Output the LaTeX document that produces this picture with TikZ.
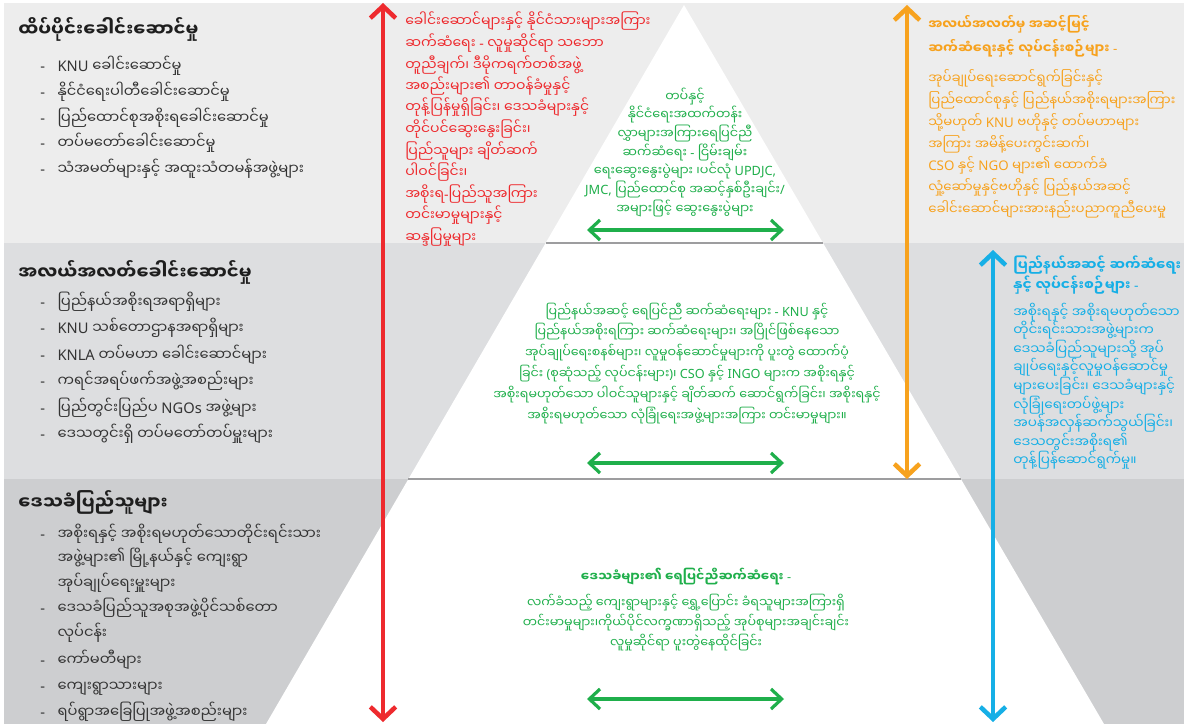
\documentclass[tikz,border=0pt]{standalone}
\usepackage{fontspec}
\setmainfont[Script=Myanmar]{Noto Sans Myanmar UI}
\newfontfamily\latf{Noto Sans}
\newcommand\LT[1]{{\latf #1}}
\newcommand\dsh{\makebox[13pt][l]{\LT{-}}}
\newcommand\ind{\hspace*{13pt}}
\usetikzlibrary{arrows.meta}
\definecolor{bandA}{HTML}{EDEDED}
\definecolor{bandB}{HTML}{DDDEE0}
\definecolor{bandC}{HTML}{CDCED0}
\definecolor{sepgray}{HTML}{9D9D9F}
\definecolor{txtdark}{HTML}{1E1E1E}
\definecolor{txtgray}{HTML}{333333}
\definecolor{cred}{HTML}{EE2A2E}
\definecolor{corange}{HTML}{F7A21E}
\definecolor{cblue}{HTML}{16AFE6}
\definecolor{cgreen}{HTML}{1FAF4B}
\tikzset{
  hdr/.style={anchor=base west, inner sep=0pt, text=txtdark, font=\fontsize{13.5}{16}\selectfont\bfseries},
  itm/.style={anchor=base west, inner sep=0pt, text=txtgray, font=\fontsize{11}{13}\selectfont},
  redt/.style={anchor=base west, inner sep=0pt, text=cred, font=\fontsize{10.5}{12}\selectfont},
  grt/.style={anchor=base, inner sep=0pt, text=cgreen, font=\fontsize{9.6}{11}\selectfont},
  grm/.style={anchor=base, inner sep=0pt, text=cgreen, font=\fontsize{9.5}{11}\selectfont},
  ort/.style={anchor=base west, inner sep=0pt, text=corange, font=\fontsize{10}{12}\selectfont},
  blt/.style={anchor=base west, inner sep=0pt, text=cblue, font=\fontsize{10.2}{12}\selectfont},
  sepline/.style={draw=sepgray, line width=1.6pt},
  bigarr/.style={line width=3.4pt, {Straight Barb[length=9pt,width=19pt]}-{Straight Barb[length=9pt,width=19pt]}},
  grarr/.style={draw=cgreen, line width=2.4pt, {Straight Barb[length=8pt,width=15pt]}-{Straight Barb[length=8pt,width=15pt]}}
}
\begin{document}
\begin{tikzpicture}[x=0.75pt,y=-0.75pt]
\useasboundingbox (0,0) rectangle (1184,724);
\fill[white] (0,0) rectangle (1184,724);
\fill[bandA] (4,3) rectangle (1184,243);
\fill[bandB] (4,243) rectangle (1184,479);
\fill[bandC] (4,479) rectangle (1184,724);
\fill[white] (684,5) -- (1104,724) -- (266,724) -- cycle;
\draw[sepline] (546,243) -- (823,243);
\draw[sepline] (408,479) -- (961,479);

% left column
\node[hdr] (h1) at (18,37) {ထိပ်ပိုင်းခေါင်းဆောင်မှု};
\foreach \tx [count=\i] in {{\LT{KNU} ခေါင်းဆောင်မှု},{နိုင်ငံရေးပါတီခေါင်းဆောင်မှု},{ပြည်ထောင်စုအစိုးရခေါင်းဆောင်မှု},{တပ်မတော်ခေါင်းဆောင်မှု},{သံအမတ်များနှင့် အထူးသံတမန်အဖွဲ့များ}}
  \node[itm] (a\i) at (40,{72+25.6*(\i-1)}) {\dsh\tx};

\node[hdr] (h2) at (18,279) {အလယ်အလတ်ခေါင်းဆောင်မှု};
\foreach \tx [count=\i] in {{ပြည်နယ်အစိုးရအရာရှိများ},{\LT{KNU} သစ်တောဌာနအရာရှိများ},{\LT{KNLA} တပ်မဟာ ခေါင်းဆောင်များ},{ကရင်အရပ်ဖက်အဖွဲ့အစည်းများ},{ပြည်တွင်းပြည်ပ \LT{NGOs} အဖွဲ့များ},{ဒေသတွင်းရှိ တပ်မတော်တပ်မှူးများ}}
  \node[itm] (b\i) at (40,{307+26.5*(\i-1)}) {\dsh\tx};

\node[hdr] (h3) at (18,509) {ဒေသခံပြည်သူများ};
\node[itm] (c1) at (40,539) {\dsh အစိုးရနှင့် အစိုးရမဟုတ်သောတိုင်းရင်းသား};
\node[itm] (c2) at (40,563) {\ind အဖွဲ့များ၏ မြို့နယ်နှင့် ကျေးရွာ};
\node[itm] (c3) at (40,588) {\ind အုပ်ချုပ်ရေးမှူးများ};
\node[itm] (c4) at (40,613) {\dsh ဒေသခံပြည်သူအစုအဖွဲ့ပိုင်သစ်တော};
\node[itm] (c5) at (40,638) {\ind လုပ်ငန်း};
\node[itm] (c6) at (40,665) {\dsh ကော်မတီများ};
\node[itm] (c7) at (40,691) {\dsh ကျေးရွာသားများ};
\node[itm] (c8) at (40,717) {\dsh ရပ်ရွာအခြေပြုအဖွဲ့အစည်းများ};

% red text
\foreach \tx [count=\i] in {{ခေါင်းဆောင်များနှင့် နိုင်ငံသားများအကြား},{ဆက်ဆံရေး \LT{-} လူမှုဆိုင်ရာ သဘော},{တူညီချက်၊ ဒီမိုကရက်တစ်အဖွဲ့},{အစည်းများ၏ တာဝန်ခံမှုနှင့်},{တုန့်ပြန်မှုရှိခြင်း၊ ဒေသခံများနှင့်},{တိုင်ပင်ဆွေးနွေးခြင်း၊},{ပြည်သူများ ချိတ်ဆက်},{ပါဝင်ခြင်း၊},{အစိုးရ\LT{-}ပြည်သူအကြား},{တင်းမာမှုများနှင့်},{ဆန္ဒပြမှုများ}}
  \node[redt] (r\i) at (405,{27+21.5*(\i-1)}) {\tx};

% green top
\foreach \tx [count=\i] in {{တပ်နှင့်},{နိုင်ငံရေးအထက်တန်း},{လွှာများအကြားရေပြင်ညီ},{ဆက်ဆံရေး \LT{-} ငြိမ်းချမ်း},{ရေးဆွေးနွေးပွဲများ ၊ပင်လုံ \LT{UPDJC,}},{\LT{JMC,} ပြည်ထောင်စု အဆင့်နှစ်ဦးချင်း\LT{/}},{အများဖြင့် ဆွေးနွေးပွဲများ}}
  \node[grt] (g\i) at (685,{101+18.7*(\i-1)}) {\tx};

% green middle
\foreach \tx [count=\i] in {{ပြည်နယ်အဆင့် ရေပြင်ညီ ဆက်ဆံရေးများ \LT{- KNU} နှင့်},{ပြည်နယ်အစိုးရကြား ဆက်ဆံရေးများ၊ အပြိုင်ဖြစ်နေသော},{အုပ်ချုပ်ရေးစနစ်များ၊ လူမှုဝန်ဆောင်မှုများကို ပူးတွဲ ထောက်ပံ့},{ခြင်း \LT{(}စုဆုံသည့် လုပ်ငန်းများ\LT{)}၊ \LT{CSO} နှင့် \LT{INGO} များက အစိုးရနှင့်},{အစိုးရမဟုတ်သော ပါဝင်သူများနှင့် ချိတ်ဆက် ဆောင်ရွက်ခြင်း၊ အစိုးရနှင့်},{အစိုးရမဟုတ်သော လုံခြုံရေးအဖွဲ့များအကြား တင်းမာမှုများ။}}
  \node[grm] (m\i) at (687,{316+20.8*(\i-1)}) {\tx};

% green bottom
\node[grm, font=\fontsize{9.5}{11}\selectfont\bfseries] (n1) at (686,581) {ဒေသခံများ၏ ရေပြင်ညီဆက်ဆံရေး \LT{-}};
\node[grm] (n2) at (686,607) {လက်ခံသည့် ကျေးရွာများနှင့် ရွှေ့ပြောင်း ခံရသူများအကြားရှိ};
\node[grm] (n3) at (686,627) {တင်းမာမှုများ၊ကိုယ်ပိုင်လက္ခဏာရှိသည့် အုပ်စုများအချင်းချင်း};
\node[grm] (n4) at (686,647) {လူမှုဆိုင်ရာ ပူးတွဲနေထိုင်ခြင်း};

% orange text
\node[ort, font=\fontsize{10}{12}\selectfont\bfseries] (o0) at (928,30) {အလယ်အလတ်မှ အဆင့်မြင့်};
\node[ort, font=\fontsize{10}{12}\selectfont\bfseries] (o00) at (928,54) {ဆက်ဆံရေးနှင့် လုပ်ငန်းစဉ်များ \LT{-}};
\foreach \tx [count=\i] in {{အုပ်ချုပ်ရေးဆောင်ရွက်ခြင်းနှင့်},{ပြည်ထောင်စုနှင့် ပြည်နယ်အစိုးရများအကြား},{သို့မဟုတ်  \LT{KNU} ဗဟိုနှင့် တပ်မဟာများ},{အကြား အမိန့်ပေးကွင်းဆက်၊},{\LT{CSO} နှင့် \LT{NGO} များ၏ ထောက်ခံ},{လှုံ့ဆော်မှုနှင့်ဗဟိုနှင့် ပြည်နယ်အဆင့်},{ခေါင်းဆောင်များအားနည်းပညာကူညီပေးမှု}}
  \node[ort] (o\i) at (928,{84+21.7*(\i-1)}) {\tx};

% blue text
\node[blt, font=\fontsize{10.4}{12}\selectfont\bfseries] (u0) at (1013,270) {ပြည်နယ်အဆင့် ဆက်ဆံရေး};
\node[blt, font=\fontsize{10.4}{12}\selectfont\bfseries] (u00) at (1013,290) {နှင့် လုပ်ငန်းစဉ်များ \LT{-}};
\foreach \tx [count=\i] in {{အစိုးရနှင့် အစိုးရမဟုတ်သော},{တိုင်းရင်းသားအဖွဲ့များက},{ဒေသခံပြည်သူများသို့ အုပ်},{ချုပ်ရေးနှင့်လူမှုဝန်ဆောင်မှု},{များပေးခြင်း၊ ဒေသခံများနှင့်},{လုံခြုံရေးတပ်ဖွဲ့များ},{အပန်အလှန်ဆက်သွယ်ခြင်း၊},{ဒေသတွင်းအစိုးရ၏},{တုန့်ပြန်ဆောင်ရွက်မှု။}}
  \node[blt] (u\i) at (1013,{317+18.6*(\i-1)}) {\tx};

% arrows
\coordinate (redT) at (383,3);
\coordinate (redB) at (383,722);
\coordinate (orT) at (907,5);
\coordinate (orB) at (907,479);
\coordinate (blT) at (993,250);
\coordinate (blB) at (993,722);
\draw[bigarr, draw=cred] (redT) -- (redB);
\draw[bigarr, draw=corange] (orT) -- (orB);
\draw[bigarr, draw=cblue] (blT) -- (blB);
\coordinate (gaL) at (587,230);
\coordinate (gaR) at (784,230);
\coordinate (gbL) at (587,463);
\coordinate (gbR) at (784,463);
\coordinate (gcL) at (587,699);
\coordinate (gcR) at (784,699);
\draw[grarr] (gaL) -- (gaR);
\draw[grarr] (gbL) -- (gbR);
\draw[grarr] (gcL) -- (gcR);
\end{tikzpicture}
\end{document}
